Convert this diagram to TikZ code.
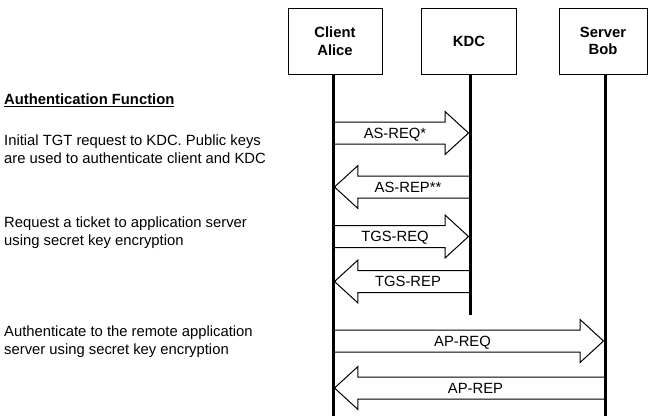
\documentclass[tikz,border=0pt]{standalone}
\usepackage{fontspec}
\setmainfont{Liberation Sans}
\usetikzlibrary{calc}
\usetikzlibrary{shapes.arrows}
\newcommand{\diagfont}{\fontsize{14.8}{17.7}\selectfont}
\tikzset{entity/.style={draw,line width=0.9pt,minimum width=94pt,minimum height=66pt,inner sep=0pt,align=center,font=\diagfont\bfseries}}
\tikzset{lifeline/.style={line width=3pt}}
\tikzset{msg/.style={single arrow,draw,fill=white,line width=1pt,anchor=tail,single arrow head extend=10.5pt,single arrow tip angle=85,inner xsep=2pt,inner ysep=0pt,text height=15.8pt,text depth=5.2pt}}
\tikzset{msgback/.style={msg,shape border rotate=180}}
\tikzset{note/.style={anchor=west,align=left,inner sep=0pt}}
% name, style, from, to, label
\newcommand{\sendmsg}[5]{%
  \path let \p1=(#3),\p2=(#4),\n1={veclen(\x2-\x1,\y2-\y1)-2pt} in
    node[#2,minimum height=\n1] (#1) at (#3) {#5};}

\begin{document}
\begin{tikzpicture}[x=1pt,y=-1pt,font=\diagfont]
  \useasboundingbox (0,0) rectangle (648,416);
  % participants
  \node[entity] (alice) at (335,41) {Client\\Alice};
  \node[entity,minimum width=95pt] (kdc) at (469,41) {KDC};
  \node[entity,minimum width=88pt] (bob) at (603,41) {Server\\Bob};
  \coordinate (aliceend) at (333,416);
  \coordinate (kdcend) at (470,315);
  \coordinate (bobend) at (605,416);

  % messages
  \coordinate (asreqa) at (aliceend |- 0,133);
  \coordinate (asreqb) at (kdcend |- 0,133);
  \coordinate (asrepa) at (aliceend |- 0,187);
  \coordinate (asrepb) at (kdcend |- 0,187);
  \coordinate (tgsreqa) at (aliceend |- 0,236.5);
  \coordinate (tgsreqb) at (kdcend |- 0,236.5);
  \coordinate (tgsrepa) at (aliceend |- 0,281.5);
  \coordinate (tgsrepb) at (kdcend |- 0,281.5);
  \coordinate (apreqa) at (aliceend |- 0,341);
  \coordinate (apreqb) at (bobend |- 0,341);
  \coordinate (aprepa) at (aliceend |- 0,388);
  \coordinate (aprepb) at (bobend |- 0,388);
  \sendmsg{asreq}{msg}{asreqa}{asreqb}{AS-REQ*}
  \sendmsg{asrep}{msgback}{asrepb}{asrepa}{AS-REP**}
  \sendmsg{tgsreq}{msg}{tgsreqa}{tgsreqb}{TGS-REQ}
  \sendmsg{tgsrep}{msgback}{tgsrepb}{tgsrepa}{TGS-REP}
  \sendmsg{apreq}{msg}{apreqa}{apreqb}{AP-REQ}
  \sendmsg{aprep}{msgback}{aprepb}{aprepa}{AP-REP}

  % lifelines
  \draw[lifeline] (aliceend |- alice.south) -- (aliceend);
  \draw[lifeline] (kdcend |- kdc.south) -- (kdcend);
  \draw[lifeline] (bobend |- bob.south) -- (bobend);

  % notes
  \node[note] (title) at (4,100) {\textbf{\underline{Authentication Function}}};
  \node[note] (astext) at (4,149) {Initial TGT request to KDC. Public keys\\are used to authenticate client and KDC};
  \node[note] (tgstext) at (4,232.5) {Request a ticket to application server\\using secret key encryption};
  \node[note] (aptext) at (4,341.5) {Authenticate to the remote application\\server using secret key encryption};
\end{tikzpicture}
\end{document}
